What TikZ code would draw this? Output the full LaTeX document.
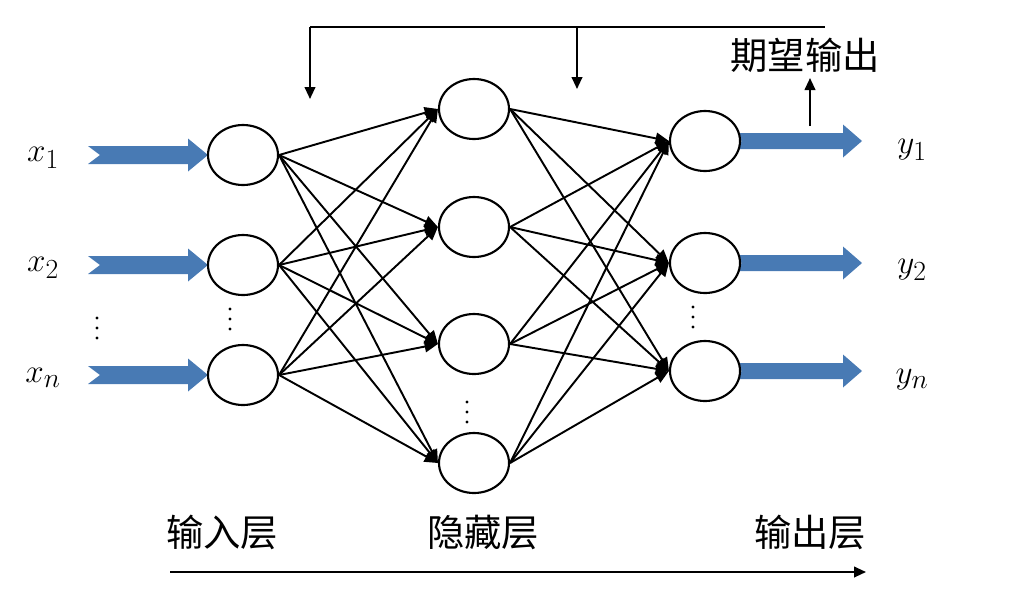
\documentclass[tikz,border=0pt]{standalone}
\usepackage{fontspec}
\newfontfamily\cjk{Noto Sans CJK SC}
\usetikzlibrary{shapes.geometric,arrows.meta}
\definecolor{arrowblue}{RGB}{72,122,180}
\newcommand\varlab[1]{{\fontsize{29}{29}\selectfont$#1$}}
\begin{document}
\begin{tikzpicture}[x=0.75pt,y=-0.75pt,
  neuron/.style={ellipse, draw, line width=1.6pt, fill=white, minimum width=52.5pt, minimum height=45pt, inner sep=0pt},
  conn/.style={line width=1.45pt, -{Triangle[length=10pt,width=8.5pt]}},
  fbline/.style={line width=1.45pt, -{Triangle[length=9pt,width=8pt]}},
  cjklab/.style={font=\cjk\fontsize{28}{28}\selectfont, inner sep=0pt},
  bluearrow/.style={fill=arrowblue, draw=none},
  dotmark/.style={fill=black, draw=none}]
\useasboundingbox (0,0) rectangle (1011,594);

% blue input arrows
\foreach \c in {155,265,375}{
  \fill[bluearrow] (88,\c-9) -- (188,\c-9) -- (188,\c-16.5) -- (208,\c) -- (188,\c+16.5) -- (188,\c+9) -- (88,\c+9) -- (100,\c) -- cycle;
}
% blue output arrows
\foreach \c in {141,263,371}{
  \fill[bluearrow] (730,\c-8) -- (843,\c-8) -- (843,\c-16.5) -- (862,\c) -- (843,\c+16.5) -- (843,\c+8) -- (730,\c+8) -- (742,\c) -- cycle;
}

% neurons
\node[neuron] (i1) at (243,155) {};
\node[neuron] (i2) at (243,265) {};
\node[neuron] (i3) at (243,375) {};
\node[neuron] (h1) at (474,109) {};
\node[neuron] (h2) at (474,227) {};
\node[neuron] (h3) at (474,344) {};
\node[neuron] (h4) at (474,463) {};
\node[neuron] (o1) at (705,141) {};
\node[neuron] (o2) at (705,263) {};
\node[neuron] (o3) at (705,371) {};

% connections
\foreach \a in {i1,i2,i3}{
  \foreach \b in {h1,h2,h3,h4}{
    \draw[conn] (\a.east) -- (\b.west);
  }
}
\foreach \a in {h1,h2,h3,h4}{
  \foreach \b in {o1,o2,o3}{
    \draw[conn] (\a.east) -- (\b.west);
  }
}

% labels
\node (x1) at (43,158) {\varlab{x_1}};
\node (x2) at (43,268) {\varlab{x_2}};
\node (xn) at (43,378) {\varlab{x_n}};
\node (y1) at (912,150) {\varlab{y_1}};
\node (y2) at (912,270) {\varlab{y_2}};
\node (yn) at (912,380) {\varlab{y_n}};

% vertical dots
\foreach \x/\y in {97/318, 230/309, 467/402, 693/307}{
  \foreach \k in {0,1,2}{
    \fill[dotmark] (\x,\y+\k*10) circle (1.6);
  }
}

% feedback
\coordinate (fbL) at (310,27);
\coordinate (fbM) at (577,27);
\coordinate (fbR) at (825,27);
\coordinate (fbLend) at (310,99);
\coordinate (fbMend) at (577,89);
\coordinate (upS) at (810,126);
\coordinate (upE) at (810,78);
\draw[line width=1.45pt] (fbL) -- (fbR);
\draw[fbline] (fbL) -- (fbLend);
\draw[fbline] (fbM) -- (fbMend);
\draw[fbline] (upS) -- (upE);
\node[cjklab] (want) at (805,55) {期望输出};

% layer labels
\node[cjklab] (lin) at (222,532) {输入层};
\node[cjklab] (lhid) at (483,532) {隐藏层};
\node[cjklab] (lout) at (810,532) {输出层};
\coordinate (dirS) at (170,572);
\coordinate (dirE) at (866,572);
\draw[fbline] (dirS) -- (dirE);
\end{tikzpicture}
\end{document}
